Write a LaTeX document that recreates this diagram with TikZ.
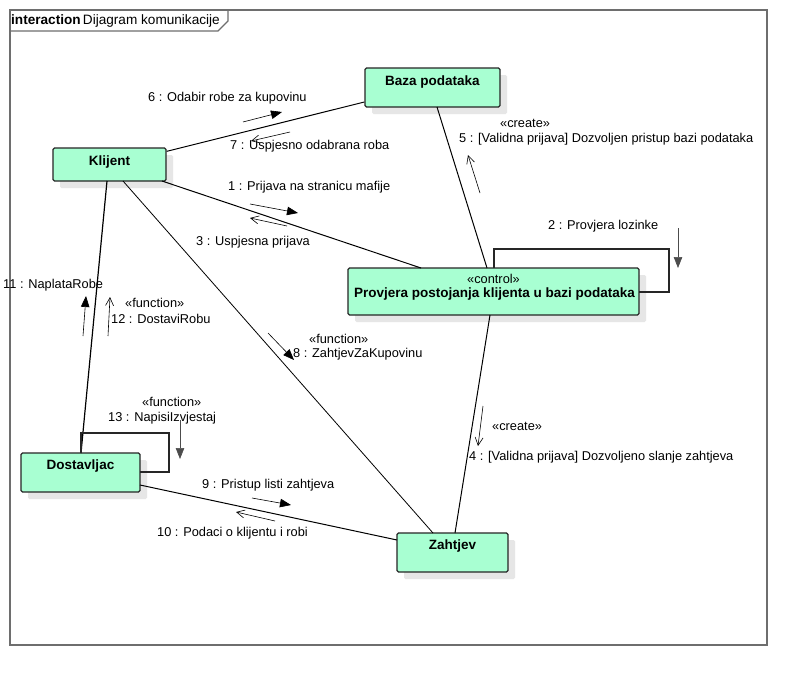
\documentclass[tikz,border=0pt]{standalone}
\usepackage{fontspec}
\setmainfont{Liberation Sans}
\usetikzlibrary{arrows.meta,shadows}
\definecolor{objfill}{HTML}{A8FFD2}
\definecolor{framegray}{HTML}{6E6E6E}
\definecolor{shadowgray}{HTML}{E6E6E6}
\tikzset{
  x=1pt, y=-1pt,
  txt/.style={font=\fontsize{12.8}{15}\selectfont, inner sep=0pt, anchor=west},
  objbox/.style={draw=black!85, line width=1.3pt, fill=objfill, rounded corners=1.5pt,
    inner sep=0pt, general shadow={fill=shadowgray, shadow xshift=7pt, shadow yshift=-7pt}},
  objname/.style={font=\fontsize{13.5}{16}\selectfont\bfseries, inner sep=0pt, anchor=center},
  link/.style={draw=black, line width=1pt},
  loopline/.style={draw=black!85, line width=1.3pt},
  callarrow/.style={draw=black, line width=0.6pt, -{Triangle[length=11pt,width=8.5pt]}},
  retarrow/.style={draw=black, line width=0.6pt, -{Straight Barb[length=8pt,width=8pt,line width=0.6pt]}},
}
\begin{document}
\begin{tikzpicture}
\useasboundingbox (0,0) rectangle (805,685);
\fill[white] (0,0) rectangle (805,685);

% interaction frame and its heading tab
\draw[framegray, line width=1.3pt] (10,10) rectangle (767,645);
\draw[framegray, line width=1.1pt] (10,10) -- (228,10) -- (228,21) -- (218,31) -- (10,31);
\node[txt, font=\fontsize{13.6}{16}\selectfont] (frametitle) at (11,21) {\textbf{interaction}\,Dijagram komunikacije};

% objects
\node[objbox, minimum width=113pt, minimum height=33pt] (klijent) at (109.5,164.5) {};
\node[objname] (klijentlbl) at (109.5,162) {Klijent};

\node[objbox, minimum width=135pt, minimum height=39pt] (baza) at (432.5,87.5) {};
\node[objname] (bazalbl) at (432.5,82) {Baza podataka};

\node[objbox, minimum width=291pt, minimum height=47pt] (provjera) at (493.5,291.5) {};
\node[txt, anchor=center] (provjerast) at (493.5,279) {«control»};
\node[objname] (provjeralbl) at (494.5,294) {Provjera postojanja klijenta u bazi podataka};

\node[objbox, minimum width=119pt, minimum height=39pt] (dostavljac) at (80.5,472.5) {};
\node[objname] (dostavljaclbl) at (80.5,466) {Dostavljac};

\node[objbox, minimum width=111pt, minimum height=39pt] (zahtjev) at (452.5,552.5) {};
\node[objname] (zahtjevlbl) at (452.5,546) {Zahtjev};

% links between objects
\draw[link] (klijent.north east) ++(0,4) coordinate (kb1) -- (baza.west |- 0,102) coordinate (kb2);
\draw[link] (162,181) coordinate (kp1) -- (421,268) coordinate (kp2);
\draw[link, line width=0.8pt] (123,181) coordinate (kz1) -- (433,533) coordinate (kz2);
\draw[link, line width=1.2pt] (107,181) coordinate (kd1) -- (81,453) coordinate (kd2);
\draw[link] (437,107) coordinate (bp1) -- (487,268) coordinate (bp2);
\draw[link] (490,315) coordinate (pz1) -- (455,533) coordinate (pz2);
\draw[link] (140,485) coordinate (dz1) -- (397,540) coordinate (dz2);

% self links
\draw[loopline] (494,268) coordinate (pl1) -- (494,249) -- (669,249) -- (669,292) -- (639,292) coordinate (pl2);
\draw[loopline] (81,453) coordinate (dl1) -- (81,433) -- (169,433) -- (169,472) -- (140,472) coordinate (dl2);

% message arrows
\coordinate (m6a) at (243,122); \coordinate (m6b) at (282,112);
\draw[callarrow] (m6a) -- (m6b);
\coordinate (m7a) at (290,132); \coordinate (m7b) at (251,141);
\draw[retarrow] (m7a) -- (m7b);
\coordinate (m1a) at (250,204); \coordinate (m1b) at (298,213);
\draw[callarrow] (m1a) -- (m1b);
\coordinate (m3a) at (287,226); \coordinate (m3b) at (250,218);
\draw[retarrow] (m3a) -- (m3b);
\coordinate (m5a) at (480,193); \coordinate (m5b) at (468,155);
\draw[retarrow] (m5a) -- (m5b);
\coordinate (m2a) at (678,228); \coordinate (m2b) at (678,268);
\draw[callarrow, draw=black!70, fill=black] (m2a) -- (m2b);
\coordinate (m8a) at (268,333); \coordinate (m8b) at (294,360);
\draw[callarrow] (m8a) -- (m8b);
\coordinate (m4a) at (483,406); \coordinate (m4b) at (478,446);
\draw[retarrow] (m4a) -- (m4b);
\coordinate (m11a) at (83,336); \coordinate (m11b) at (86,296);
\draw[callarrow] (m11a) -- (m11b);
\coordinate (m12a) at (108,336); \coordinate (m12b) at (110,297);
\draw[retarrow] (m12a) -- (m12b);
\coordinate (m13a) at (180,420); \coordinate (m13b) at (180,459);
\draw[callarrow, draw=black!70, fill=black] (m13a) -- (m13b);
\coordinate (m9a) at (252,498); \coordinate (m9b) at (291,505);
\draw[callarrow] (m9a) -- (m9b);
\coordinate (m10a) at (275,521); \coordinate (m10b) at (236,512);
\draw[retarrow] (m10a) -- (m10b);

% message labels
\node[txt] (l6) at (148,98) {6 : Odabir robe za kupovinu};
\node[txt] (l7) at (230,146) {7 : Uspjesno odabrana roba};
\node[txt] (l1) at (228,187) {1 : Prijava na stranicu mafije};
\node[txt] (l3) at (196,242) {3 : Uspjesna prijava};
\node[txt] (l5s) at (500,123) {«create»};
\node[txt] (l5) at (459,139) {5 : [Validna prijava] Dozvoljen pristup bazi podataka};
\node[txt] (l2) at (548,226) {2 : Provjera lozinke};
\node[txt] (l11) at (3,285) {11 : NaplataRobe};
\node[txt] (l12s) at (125,303) {«function»};
\node[txt] (l12) at (111,319) {12 : DostaviRobu};
\node[txt] (l8s) at (309,339) {«function»};
\node[txt] (l8) at (293,354) {8 : ZahtjevZaKupovinu};
\node[txt] (l13s) at (142,402) {«function»};
\node[txt] (l13) at (108,418) {13 : NapisiIzvjestaj};
\node[txt] (l4s) at (492,426) {«create»};
\node[txt] (l4) at (469,457) {4 : [Validna prijava] Dozvoljeno slanje zahtjeva};
\node[txt] (l9) at (202,485) {9 : Pristup listi zahtjeva};
\node[txt] (l10) at (157,533) {10 : Podaci o klijentu i robi};
\end{tikzpicture}
\end{document}
